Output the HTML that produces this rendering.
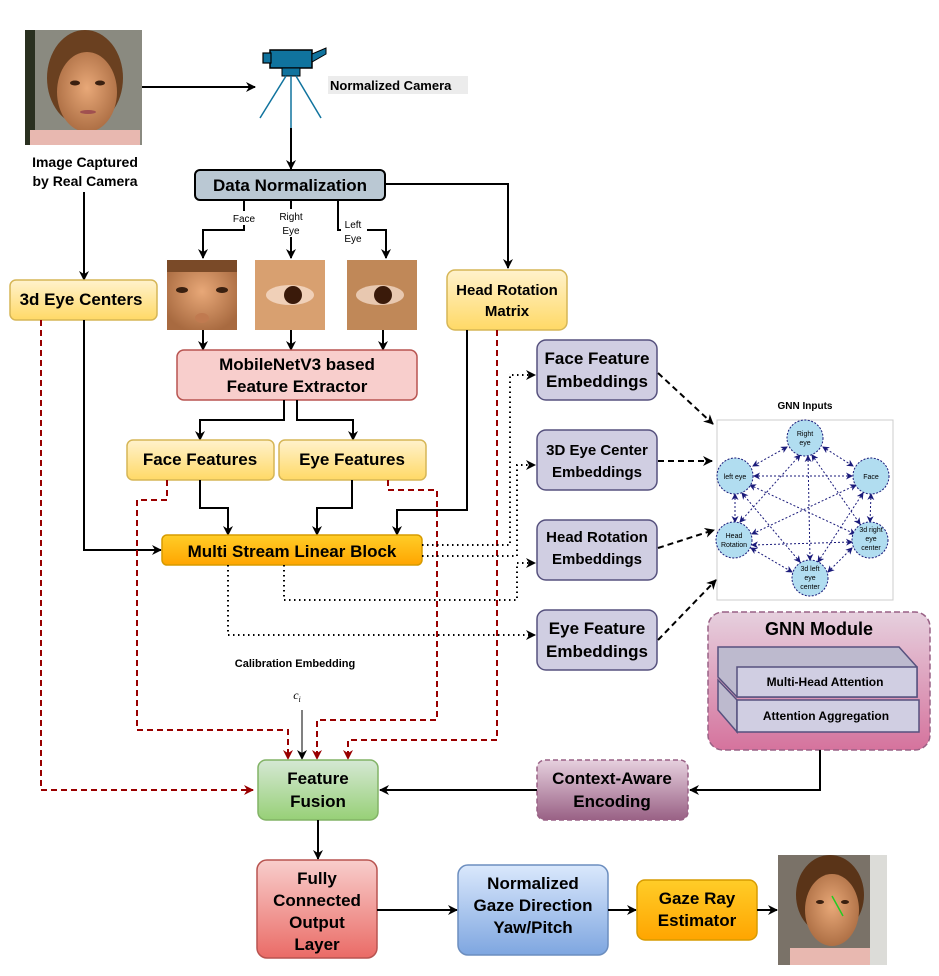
<!DOCTYPE html>
<html><head><meta charset="utf-8"><style>
html,body{margin:0;padding:0;background:#fff;}
svg{display:block;font-family:"Liberation Sans",Arial,sans-serif;}
.b{font-weight:bold;fill:#000;}
</style></head><body>
<svg width="939" height="976" viewBox="0 0 939 976" xmlns="http://www.w3.org/2000/svg">
<defs>
<marker id="a" markerWidth="10" markerHeight="10" refX="9" refY="5" orient="auto" markerUnits="userSpaceOnUse"><path d="M0,0 L10,5 L0,10 L3,5 z" fill="#000"/></marker>
<marker id="ar" markerWidth="10" markerHeight="10" refX="9" refY="5" orient="auto" markerUnits="userSpaceOnUse"><path d="M0,0 L10,5 L0,10 L3,5 z" fill="#990000"/></marker>
<marker id="an" markerWidth="7" markerHeight="7" refX="6" refY="3.5" orient="auto-start-reverse" markerUnits="userSpaceOnUse"><path d="M0,0 L7,3.5 L0,7 L2,3.5 z" fill="#1a1a7a"/></marker>
<linearGradient id="gy" x1="0" y1="0" x2="0" y2="1"><stop offset="0" stop-color="#fff2cc"/><stop offset="1" stop-color="#ffd966"/></linearGradient>
<linearGradient id="go" x1="0" y1="0" x2="0" y2="1"><stop offset="0" stop-color="#ffcd28"/><stop offset="1" stop-color="#ffa500"/></linearGradient>
<linearGradient id="gg" x1="0" y1="0" x2="0" y2="1"><stop offset="0" stop-color="#d5e8d4"/><stop offset="1" stop-color="#97d077"/></linearGradient>
<linearGradient id="gr" x1="0" y1="0" x2="0" y2="1"><stop offset="0" stop-color="#f8cecc"/><stop offset="1" stop-color="#ea6b66"/></linearGradient>
<linearGradient id="gb" x1="0" y1="0" x2="0" y2="1"><stop offset="0" stop-color="#dae8fc"/><stop offset="1" stop-color="#7ea6e0"/></linearGradient>
<linearGradient id="gp" x1="0" y1="0" x2="0" y2="1"><stop offset="0" stop-color="#e6d0de"/><stop offset="1" stop-color="#d5739d"/></linearGradient>
<linearGradient id="gc" x1="0" y1="0" x2="0" y2="1"><stop offset="0" stop-color="#e6d0de"/><stop offset="1" stop-color="#996185"/></linearGradient>
<radialGradient id="skin" cx="0.5" cy="0.45" r="0.6"><stop offset="0" stop-color="#e8a878"/><stop offset="1" stop-color="#a86a40"/></radialGradient>
</defs>

<!-- top face photo -->
<rect x="25" y="30" width="117" height="115" fill="#8a8a80"/>
<rect x="25" y="30" width="10" height="115" fill="#2a3020"/>
<ellipse cx="85" cy="78" rx="38" ry="48" fill="#6a4020"/>
<ellipse cx="87" cy="92" rx="30" ry="40" fill="url(#skin)"/>
<rect x="30" y="130" width="110" height="15" fill="#e8b8b0"/>
<ellipse cx="75" cy="83" rx="5" ry="2.5" fill="#3a2010"/><ellipse cx="100" cy="83" rx="5" ry="2.5" fill="#3a2010"/>
<ellipse cx="88" cy="112" rx="8" ry="2" fill="#a05050"/>
<text class="b" x="85" y="167" font-size="14" text-anchor="middle">Image Captured</text>
<text class="b" x="85" y="186" font-size="14" text-anchor="middle">by Real Camera</text>
<line x1="142" y1="87" x2="255" y2="87" stroke="#000" stroke-width="2" marker-end="url(#a)"/>

<!-- camera -->
<rect x="270" y="50" width="42" height="18" fill="#10739e" stroke="#000" stroke-width="1.5"/>
<rect x="263" y="53" width="8" height="10" fill="#10739e" stroke="#000" stroke-width="1.2"/>
<polygon points="312,54 326,48 326,54 312,62" fill="#10739e" stroke="#000" stroke-width="1"/>
<rect x="282" y="68" width="18" height="8" fill="#10739e" stroke="#000" stroke-width="1"/>
<line x1="286" y1="76" x2="260" y2="118" stroke="#10739e" stroke-width="1.5"/>
<line x1="291" y1="76" x2="291" y2="128" stroke="#10739e" stroke-width="1.5"/>
<line x1="296" y1="76" x2="321" y2="118" stroke="#10739e" stroke-width="1.5"/>
<rect x="328" y="76" width="140" height="18" fill="#ececec"/>
<text class="b" x="330" y="90" font-size="13">Normalized Camera</text>
<line x1="291" y1="128" x2="291" y2="169" stroke="#000" stroke-width="2" marker-end="url(#a)"/>

<!-- Data normalization -->
<rect x="195" y="170" width="190" height="30" rx="5" fill="#bac8d3" stroke="#000" stroke-width="2"/>
<text class="b" x="290" y="191" font-size="17" text-anchor="middle">Data Normalization</text>
<polyline points="385,184 508,184 508,268" fill="none" stroke="#000" stroke-width="2" marker-end="url(#a)"/>
<polyline points="244,200 244,230 203,230 203,258" fill="none" stroke="#000" stroke-width="2" marker-end="url(#a)"/>
<line x1="291" y1="200" x2="291" y2="258" stroke="#000" stroke-width="2" marker-end="url(#a)"/>
<polyline points="338,200 338,230 386,230 386,258" fill="none" stroke="#000" stroke-width="2" marker-end="url(#a)"/>
<rect x="231" y="211" width="28" height="14" fill="#fff"/>
<text x="244" y="222" font-size="10" text-anchor="middle">Face</text>
<rect x="276" y="209" width="30" height="28" fill="#fff"/>
<text x="291" y="220" font-size="10" text-anchor="middle">Right</text>
<text x="291" y="234" font-size="10" text-anchor="middle">Eye</text>
<rect x="341" y="216" width="26" height="28" fill="#fff"/>
<text x="353" y="228" font-size="10" text-anchor="middle">Left</text>
<text x="353" y="242" font-size="10" text-anchor="middle">Eye</text>

<!-- crops -->
<rect x="167" y="260" width="70" height="70" fill="url(#skin)"/>
<rect x="167" y="260" width="70" height="12" fill="#7a4a28"/>
<ellipse cx="182" cy="290" rx="6" ry="3" fill="#3a2010"/><ellipse cx="222" cy="290" rx="6" ry="3" fill="#3a2010"/>
<ellipse cx="202" cy="318" rx="7" ry="5" fill="#c07a50"/>
<rect x="255" y="260" width="70" height="70" fill="#d8a070"/>
<ellipse cx="290" cy="295" rx="24" ry="10" fill="#f0d0b8"/><circle cx="293" cy="295" r="9" fill="#3a1a0a"/>
<rect x="347" y="260" width="70" height="70" fill="#c08858"/>
<ellipse cx="380" cy="295" rx="24" ry="10" fill="#e8c8b0"/><circle cx="383" cy="295" r="9" fill="#3a1a0a"/>
<line x1="203" y1="330" x2="203" y2="350" stroke="#000" stroke-width="2" marker-end="url(#a)"/>
<line x1="291" y1="330" x2="291" y2="350" stroke="#000" stroke-width="2" marker-end="url(#a)"/>
<line x1="383" y1="330" x2="383" y2="350" stroke="#000" stroke-width="2" marker-end="url(#a)"/>

<!-- MobileNet -->
<rect x="177" y="350" width="240" height="50" rx="7" fill="#f8cecc" stroke="#b85450" stroke-width="1.5"/>
<text class="b" x="297" y="370" font-size="17" text-anchor="middle">MobileNetV3 based</text>
<text class="b" x="297" y="392" font-size="17" text-anchor="middle">Feature Extractor</text>
<polyline points="284,400 284,420 200,420 200,440" fill="none" stroke="#000" stroke-width="2" marker-end="url(#a)"/>
<polyline points="297,400 297,420 353,420 353,440" fill="none" stroke="#000" stroke-width="2" marker-end="url(#a)"/>

<rect x="127" y="440" width="147" height="40" rx="6" fill="url(#gy)" stroke="#d6b656" stroke-width="1.5"/>
<text class="b" x="200" y="465" font-size="17" text-anchor="middle">Face Features</text>
<rect x="279" y="440" width="147" height="40" rx="6" fill="url(#gy)" stroke="#d6b656" stroke-width="1.5"/>
<text class="b" x="352" y="465" font-size="17" text-anchor="middle">Eye Features</text>

<!-- 3d eye centers / head rotation -->
<line x1="84" y1="192" x2="84" y2="280" stroke="#000" stroke-width="2" marker-end="url(#a)"/>
<rect x="10" y="280" width="147" height="40" rx="6" fill="url(#gy)" stroke="#d6b656" stroke-width="1.5"/>
<text class="b" x="81" y="305" font-size="17" text-anchor="middle">3d Eye Centers</text>
<rect x="447" y="270" width="120" height="60" rx="8" fill="url(#gy)" stroke="#d6b656" stroke-width="1.5"/>
<text class="b" x="507" y="295" font-size="15" text-anchor="middle">Head Rotation</text>
<text class="b" x="507" y="316" font-size="15" text-anchor="middle">Matrix</text>

<!-- to MSLB -->
<polyline points="84,320 84,550 161,550" fill="none" stroke="#000" stroke-width="2" marker-end="url(#a)"/>
<polyline points="200,480 200,508 228,508 228,535" fill="none" stroke="#000" stroke-width="2" marker-end="url(#a)"/>
<polyline points="352,480 352,508 317,508 317,535" fill="none" stroke="#000" stroke-width="2" marker-end="url(#a)"/>
<polyline points="467,330 467,510 397,510 397,535" fill="none" stroke="#000" stroke-width="2" marker-end="url(#a)"/>

<!-- red dashed -->
<g fill="none" stroke="#990000" stroke-width="2" stroke-dasharray="6,4">
<polyline points="41,320 41,790 253,790" marker-end="url(#ar)"/>
<polyline points="167,480 167,500 137,500 137,730 288,730 288,759" marker-end="url(#ar)"/>
<polyline points="388,480 388,490 437,490 437,720 317,720 317,759" marker-end="url(#ar)"/>
<polyline points="497,330 497,740 348,740 348,759" marker-end="url(#ar)"/>
</g>

<!-- MSLB -->
<rect x="162" y="535" width="260" height="30" rx="5" fill="url(#go)" stroke="#d79b00" stroke-width="1.5"/>
<text class="b" x="292" y="557" font-size="17" text-anchor="middle">Multi Stream Linear Block</text>

<!-- dotted -->
<g fill="none" stroke="#000" stroke-width="2" stroke-dasharray="1.5,3.5">
<polyline points="422,545 510,545 510,375 535,375" marker-end="url(#a)"/>
<polyline points="422,556 517,556 517,465 535,465" marker-end="url(#a)"/>
<polyline points="284,565 284,600 517,600 517,563 535,563" marker-end="url(#a)"/>
<polyline points="228,565 228,635 535,635" marker-end="url(#a)"/>
</g>

<!-- embeddings -->
<g stroke="#56517e" stroke-width="1.5" fill="#d0cee2">
<rect x="537" y="340" width="120" height="60" rx="9"/>
<rect x="537" y="430" width="120" height="60" rx="9"/>
<rect x="537" y="520" width="120" height="60" rx="9"/>
<rect x="537" y="610" width="120" height="60" rx="9"/>
</g>
<text class="b" x="597" y="364" font-size="17" text-anchor="middle">Face Feature</text>
<text class="b" x="597" y="387" font-size="17" text-anchor="middle">Embeddings</text>
<text class="b" x="597" y="455" font-size="15" text-anchor="middle">3D Eye Center</text>
<text class="b" x="597" y="477" font-size="15" text-anchor="middle">Embeddings</text>
<text class="b" x="597" y="542" font-size="15" text-anchor="middle">Head Rotation</text>
<text class="b" x="597" y="564" font-size="15" text-anchor="middle">Embeddings</text>
<text class="b" x="597" y="634" font-size="17" text-anchor="middle">Eye Feature</text>
<text class="b" x="597" y="657" font-size="17" text-anchor="middle">Embeddings</text>

<g fill="none" stroke="#000" stroke-width="2" stroke-dasharray="6,4">
<line x1="658" y1="373" x2="713" y2="424" marker-end="url(#a)"/>
<line x1="658" y1="461" x2="712" y2="461" marker-end="url(#a)"/>
<line x1="658" y1="548" x2="714" y2="530" marker-end="url(#a)"/>
<line x1="658" y1="640" x2="716" y2="580" marker-end="url(#a)"/>
</g>

<!-- GNN inputs -->
<text class="b" x="805" y="409" font-size="10" text-anchor="middle">GNN Inputs</text>
<rect x="717" y="420" width="176" height="180" fill="#fff" stroke="#ccc" stroke-width="1"/>
<g stroke="#1a1a7a" stroke-width="1" stroke-dasharray="2,2" marker-start="url(#an)" marker-end="url(#an)">
<line x1="787" y1="447" x2="753" y2="466"/>
<line x1="823" y1="447" x2="853" y2="466"/>
<line x1="754" y1="476" x2="852" y2="476"/>
<line x1="735" y1="494" x2="735" y2="522"/>
<line x1="871" y1="494" x2="870" y2="522"/>
<line x1="751" y1="548" x2="792" y2="572"/>
<line x1="852" y1="548" x2="828" y2="572"/>
<line x1="800" y1="455" x2="740" y2="522"/>
<line x1="808" y1="456" x2="810" y2="560"/>
<line x1="812" y1="455" x2="860" y2="524"/>
<line x1="750" y1="485" x2="855" y2="534"/>
<line x1="742" y1="493" x2="800" y2="562"/>
<line x1="856" y1="485" x2="752" y2="534"/>
<line x1="863" y1="493" x2="818" y2="562"/>
<line x1="852" y1="542" x2="752" y2="545"/>
</g>
<g fill="#b1ddf0" stroke="#1a1a7a" stroke-width="1" stroke-dasharray="2,1.5">
<circle cx="805" cy="438" r="18"/><circle cx="735" cy="476" r="18"/><circle cx="871" cy="476" r="18"/>
<circle cx="734" cy="540" r="18"/><circle cx="870" cy="540" r="18"/><circle cx="810" cy="578" r="18"/>
</g>
<g font-size="7" text-anchor="middle" fill="#000">
<text x="805" y="436">Right</text><text x="805" y="445">eye</text>
<text x="735" y="479">left eye</text><text x="871" y="479">Face</text>
<text x="734" y="538">Head</text><text x="734" y="547">Rotation</text>
<text x="871" y="532">3d right</text><text x="871" y="541">eye</text><text x="871" y="550">center</text>
<text x="810" y="571">3d left</text><text x="810" y="580">eye</text><text x="810" y="589">center</text>
</g>

<!-- GNN module -->
<rect x="708" y="612" width="222" height="138" rx="15" fill="url(#gp)" stroke="#996185" stroke-width="1.5" stroke-dasharray="6,3"/>
<text class="b" x="819" y="635" font-size="18" text-anchor="middle">GNN Module</text>
<g stroke="#56517e" stroke-width="1.5" fill="#d0cee2">
<polygon points="718,647 899,647 917,667 917,697 737,697 718,677" fill="#bdbace"/>
<rect x="737" y="667" width="180" height="30"/>
<polygon points="718,680 737,700 737,732 718,710" fill="#bdbace"/>
<rect x="737" y="700" width="182" height="32"/>
</g>
<text class="b" x="825" y="686" font-size="12" text-anchor="middle">Multi-Head Attention</text>
<text class="b" x="826" y="720" font-size="12" text-anchor="middle">Attention Aggregation</text>
<polyline points="820,750 820,790 690,790" fill="none" stroke="#000" stroke-width="2" marker-end="url(#a)"/>

<!-- context aware -->
<rect x="537" y="760" width="151" height="60" rx="8" fill="url(#gc)" stroke="#996185" stroke-width="1.5" stroke-dasharray="5,3"/>
<text class="b" x="612" y="784" font-size="17" text-anchor="middle">Context-Aware</text>
<text class="b" x="612" y="807" font-size="17" text-anchor="middle">Encoding</text>
<line x1="537" y1="790" x2="380" y2="790" stroke="#000" stroke-width="2" marker-end="url(#a)"/>

<!-- calibration -->
<text class="b" x="295" y="667" font-size="11" text-anchor="middle">Calibration Embedding</text>
<text x="297" y="699" font-size="12" font-style="italic" font-family="Liberation Serif,serif" text-anchor="middle">c<tspan font-size="8" dy="3">i</tspan></text>
<line x1="302" y1="710" x2="302" y2="759" stroke="#000" stroke-width="1" marker-end="url(#a)"/>

<!-- feature fusion -->
<rect x="258" y="760" width="120" height="60" rx="8" fill="url(#gg)" stroke="#82b366" stroke-width="1.5"/>
<text class="b" x="318" y="784" font-size="17" text-anchor="middle">Feature</text>
<text class="b" x="318" y="807" font-size="17" text-anchor="middle">Fusion</text>
<line x1="318" y1="820" x2="318" y2="859" stroke="#000" stroke-width="2" marker-end="url(#a)"/>

<rect x="257" y="860" width="120" height="98" rx="10" fill="url(#gr)" stroke="#b85450" stroke-width="1.5"/>
<text class="b" x="317" y="884" font-size="17" text-anchor="middle">Fully</text>
<text class="b" x="317" y="906" font-size="17" text-anchor="middle">Connected</text>
<text class="b" x="317" y="928" font-size="17" text-anchor="middle">Output</text>
<text class="b" x="317" y="950" font-size="17" text-anchor="middle">Layer</text>
<line x1="377" y1="910" x2="457" y2="910" stroke="#000" stroke-width="2" marker-end="url(#a)"/>

<rect x="458" y="865" width="150" height="90" rx="10" fill="url(#gb)" stroke="#6c8ebf" stroke-width="1.5"/>
<text class="b" x="533" y="889" font-size="17" text-anchor="middle">Normalized</text>
<text class="b" x="533" y="911" font-size="17" text-anchor="middle">Gaze Direction</text>
<text class="b" x="533" y="933" font-size="17" text-anchor="middle">Yaw/Pitch</text>
<line x1="608" y1="910" x2="636" y2="910" stroke="#000" stroke-width="2" marker-end="url(#a)"/>

<rect x="637" y="880" width="120" height="60" rx="8" fill="url(#go)" stroke="#d79b00" stroke-width="1.5"/>
<text class="b" x="697" y="904" font-size="17" text-anchor="middle">Gaze Ray</text>
<text class="b" x="697" y="926" font-size="17" text-anchor="middle">Estimator</text>
<line x1="757" y1="910" x2="777" y2="910" stroke="#000" stroke-width="2" marker-end="url(#a)"/>

<!-- output photo -->
<rect x="778" y="855" width="109" height="110" fill="#7a7268"/>
<rect x="870" y="855" width="17" height="110" fill="#dcdcd8"/>
<ellipse cx="830" cy="895" rx="34" ry="40" fill="#5a3418"/>
<ellipse cx="832" cy="910" rx="27" ry="36" fill="url(#skin)"/>
<rect x="790" y="948" width="80" height="17" fill="#e8b8b0"/>
<ellipse cx="820" cy="902" rx="4" ry="2" fill="#3a2010"/><ellipse cx="845" cy="902" rx="4" ry="2" fill="#3a2010"/>
<line x1="832" y1="896" x2="843" y2="916" stroke="#22cc22" stroke-width="1.5"/>
</svg>
</body></html>
